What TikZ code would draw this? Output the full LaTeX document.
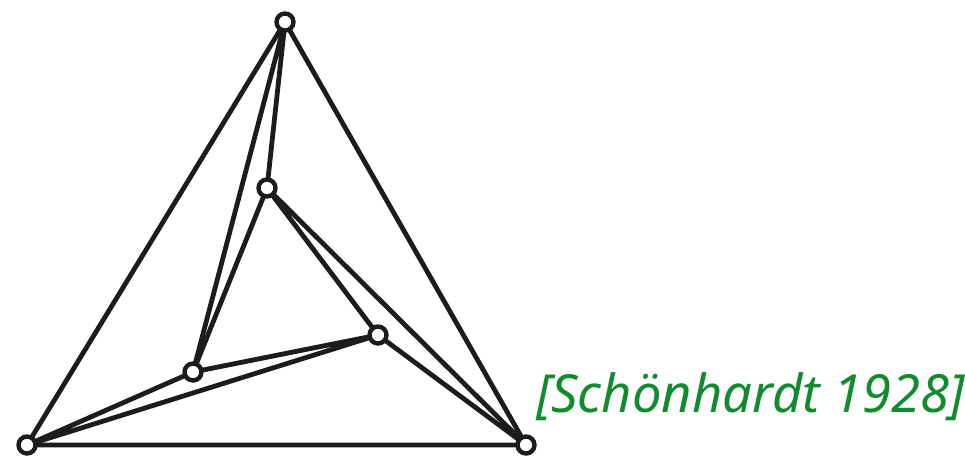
\documentclass[tikz,border=0pt]{standalone}
\usepackage{fontspec}
\setmainfont{Noto Sans}
\definecolor{ink}{HTML}{1C1C1C}
\definecolor{cite}{HTML}{128A2E}
\begin{document}
\begin{tikzpicture}[x=1pt,y=-1pt,
  edge/.style={draw=ink,line width=4.8pt,line join=round},
  vtx/.style={circle,draw=ink,fill=white,line width=4.4pt,minimum size=17pt,inner sep=0pt}]
\useasboundingbox (0,0) rectangle (965,458);
\coordinate (T) at (285,22);
\coordinate (IT) at (267,188);
\coordinate (R) at (378,335);
\coordinate (L) at (193,372);
\coordinate (BL) at (27,445);
\coordinate (BR) at (526,445);
\draw[edge] (T) -- (BL) (T) -- (BR) (BL) -- (BR);
\draw[edge] (T) -- (IT) (T) -- (L);
\draw[edge] (IT) -- (L) (IT) -- (R) (IT) -- (BR);
\draw[edge] (R) -- (BR) (R) -- (L) (R) -- (BL) (L) -- (BL);
\foreach \n in {T,IT,R,L,BL,BR} \node[vtx] (v\n) at (\n) {};
\node[text=cite,font=\fontsize{52.5}{58}\selectfont\itshape,inner sep=0pt,anchor=base west] (cit) at (536,412) {[Schönhardt 1928]};
\end{tikzpicture}
\end{document}
